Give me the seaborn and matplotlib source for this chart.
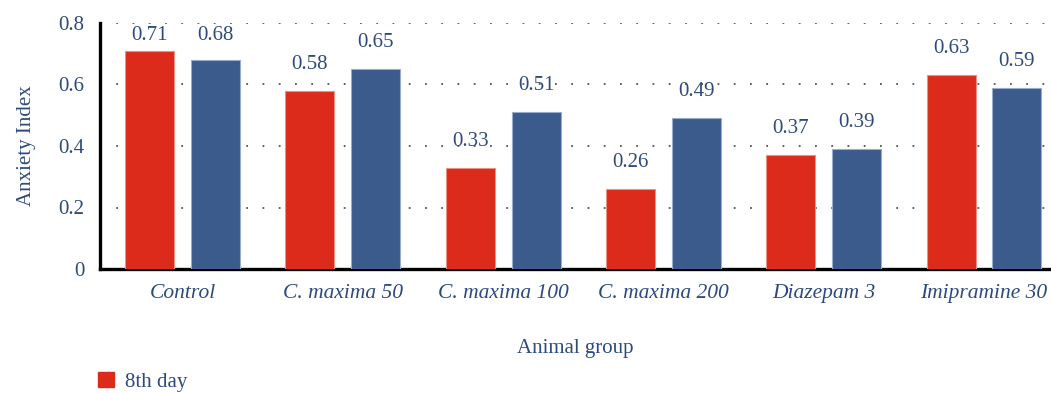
import matplotlib
matplotlib.use("Agg")
import matplotlib.pyplot as plt
from matplotlib.patches import Patch
import seaborn as sns
import pandas as pd

# Anxiety index per animal group at two time points
groups = ["Control", "C. maxima 50", "C. maxima 100", "C. maxima 200",
          "Diazepam 3", "Imipramine 30"]
day8 = [0.71, 0.58, 0.33, 0.26, 0.37, 0.63]
day15 = [0.68, 0.65, 0.51, 0.49, 0.39, 0.59]
series = ["8th day", "15th day"]
yticks = [0, 0.2, 0.4, 0.6, 0.8]
ytick_labels = ["0", "0.2", "0.4", "0.6", "0.8"]

RED = "#dc2b1a"
BLUE = "#3b5b8c"
TEXT = "#2e4a7c"

df = pd.DataFrame({
    "group": groups * 2,
    "value": day8 + day15,
    "day": [series[0]] * len(groups) + [series[1]] * len(groups),
})

sns.set_theme(style="white")
plt.rcParams["font.family"] = ["Liberation Serif", "DejaVu Serif"]

fig = plt.figure(figsize=(10.51, 3.93), dpi=100)
ax = fig.add_axes([100 / 1051, 1 - 269 / 393, 1 - 100 / 1051, (269 - 23) / 393])

sns.barplot(data=df, x="group", y="value", hue="day", hue_order=series,
            palette=[RED, BLUE], saturation=1, width=0.823, gap=0.257, ax=ax,
            legend=False, errorbar=None, zorder=3)

edge = {RED: "#ee8f84", BLUE: "#9aaccb"}
label_offset = 0.0715   # gap between bar top and value label
label_cap = 0.745       # keep labels inside the plot area
for cont, col in zip(ax.containers, [RED, BLUE]):
    for p, v in zip(cont, cont.datavalues):
        p.set_edgecolor(edge[col])
        p.set_linewidth(0.8)
        x = p.get_x() + p.get_width() / 2
        ax.text(x, min(v + label_offset, label_cap), f"{v:.2f}",
                ha="center", va="baseline", fontsize=15, color=TEXT, zorder=5)

ax.set_ylim(0, 0.8)
ax.set_xlim(-0.515, 5.418)
ax.set_yticks(yticks)
ax.set_yticklabels(ytick_labels)
ax.tick_params(axis="both", length=0, labelsize=15, colors=TEXT)
ax.tick_params(axis="y", pad=11)
ax.tick_params(axis="x", pad=11, labelsize=15.5)
for lab in ax.get_xticklabels():
    lab.set_fontstyle("italic")

ax.yaxis.grid(True, linestyle=(0, (1, 8)), linewidth=1.3, color="#555555", zorder=0)
ax.xaxis.grid(False)
ax.set_axisbelow(True)

for s in ["top", "right"]:
    ax.spines[s].set_visible(False)
for s in ["left", "bottom"]:
    ax.spines[s].set_color("black")
    ax.spines[s].set_linewidth(2.4)

ax.set_xlabel("Animal group", fontsize=15, color=TEXT, labelpad=26)
ax.set_ylabel("Anxiety Index", fontsize=15, color=TEXT, labelpad=16)

fig.legend(handles=[Patch(facecolor=RED, edgecolor=RED, label=series[0])],
           loc="lower left", bbox_to_anchor=(98 / 1051, 1 / 393),
           frameon=False, fontsize=15, labelcolor=TEXT,
           handlelength=0.75, handleheight=0.75, handletextpad=0.55,
           borderaxespad=0, borderpad=0)

fig.savefig("out.png", dpi=100)
